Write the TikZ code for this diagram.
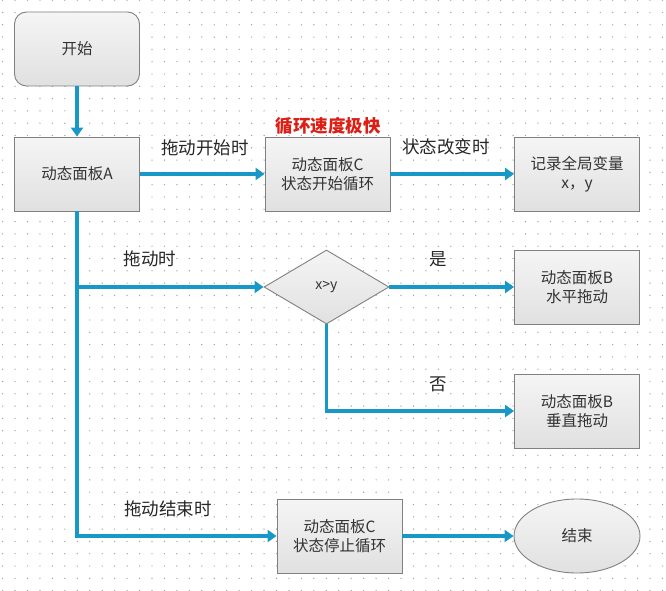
\documentclass[tikz,border=0pt]{standalone}
\usepackage{fontspec}
\setmainfont{Noto Sans CJK SC}
\usetikzlibrary{arrows.meta,shapes.geometric}
\definecolor{flow}{RGB}{24,152,198}
\definecolor{boxline}{RGB}{128,128,128}
\definecolor{dotc}{RGB}{160,160,160}
\definecolor{redlab}{RGB}{220,30,20}
\tikzset{
  boxbase/.style={draw=boxline, line width=0.9pt, top color=white!96!black, bottom color=white!88!black,
    minimum width=125pt, minimum height=74pt, inner sep=0pt, align=center, font=\fontsize{15.5}{19}\selectfont, text=black!80},
  procbox/.style={boxbase, rectangle},
  startbox/.style={boxbase, rectangle, rounded corners=12pt},
  decbox/.style={boxbase, diamond, font=\fontsize{14}{16}\selectfont},
  endbox/.style={boxbase, ellipse, minimum width=126pt},
  flowline/.style={draw=flow, line width=3.2pt, -{Triangle[width=12pt,length=9pt]}},
  lab/.style={font=\fontsize{17.5}{19}\selectfont, text=black!85, inner sep=0pt},
  redl/.style={font=\fontsize{17.5}{19}\selectfont\bfseries, text=redlab, inner sep=0pt}
}
\begin{document}
\begin{tikzpicture}[x=1pt,y=-1pt]
\useasboundingbox[fill=white] (0,0) rectangle (666,591);
% dot grid
\foreach \i in {0,...,53}{
  \foreach \j in {0,...,48}{
    \fill[dotc] (2.6+12.45*\i,0.2+12.3*\j) circle (0.7pt);
  }
}
% nodes
\node[startbox] (start) at (77,49) {开始};
\node[procbox] (A) at (77,174) {动态面板A};
\node[procbox] (C1) at (327.5,174) {动态面板C\\状态开始循环};
\node[procbox] (rec) at (577,174) {记录全局变量\\x，y};
\node[decbox] (D) at (326.5,287) {x>y};
\node[procbox] (B1) at (577,287) {动态面板B\\水平拖动};
\node[procbox] (B2) at (577,411) {动态面板B\\垂直拖动};
\node[procbox] (C2) at (339.5,536) {动态面板C\\状态停止循环};
\node[endbox] (E) at (577,536) {结束};
\coordinate (j1) at (77,287);
% labels
\node[lab] (l1) at (205,148) {拖动开始时};
\node[redl] (l2) at (328,126) {循环速度极快};
\node[lab] (l3) at (446,147) {状态改变时};
\node[lab] (l4) at (150,259) {拖动时};
\node[lab] (l5) at (438,259) {是};
\node[lab] (l6) at (438,384) {否};
\node[lab] (l7) at (168,509) {拖动结束时};
% connectors
\draw[flowline] (start) -- (A);
\draw[flowline] (A) -- (C1);
\draw[flowline] (C1) -- (rec);
\draw[flowline] (A.south) |- (C2.west);
\draw[flowline] (j1) -- (D.west);
\draw[flowline] (D.east) -- (B1.west);
\draw[flowline] (D.south) |- (B2.west);
\draw[flowline] (C2) -- (E);
\end{tikzpicture}
\end{document}
